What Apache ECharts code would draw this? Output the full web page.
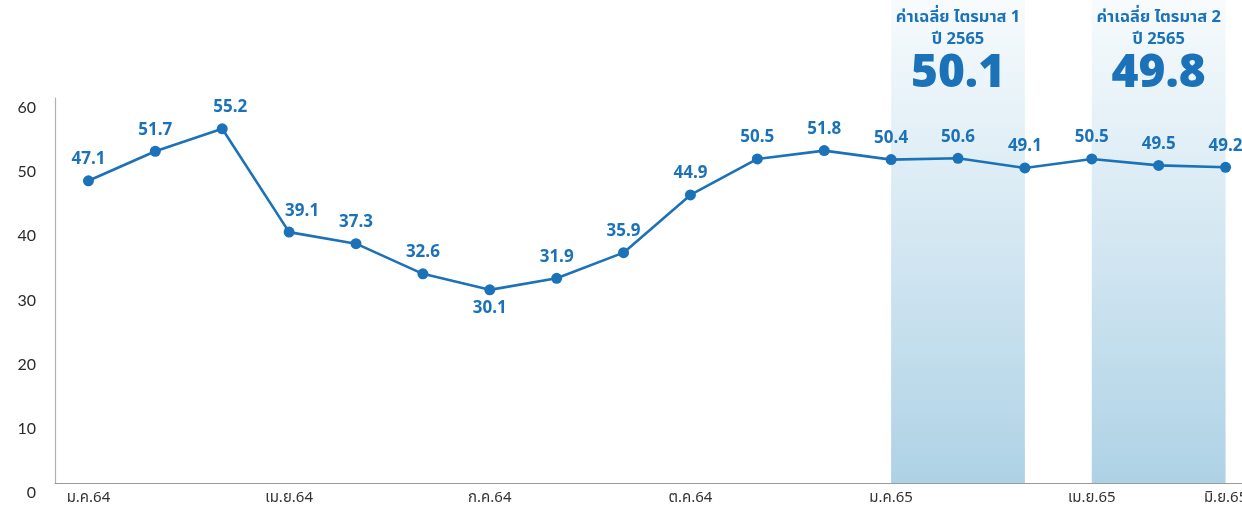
<!DOCTYPE html>
<html>
<head>
<meta charset="utf-8">
<script src="https://cdn.jsdelivr.net/npm/echarts@6/dist/echarts.min.js"></script>
<style>
  html, body { margin: 0; padding: 0; background: #ffffff; overflow: hidden; }
  #chart { width: 1242px; height: 507px; }
</style>
</head>
<body>
<div id="chart"></div>
<script>
// Monthly index, Jan 2021 – Jun 2022 (Thai Buddhist-era month labels)
const months = ['ม.ค.64', 'ก.พ.64', 'มี.ค.64', 'เม.ย.64', 'พ.ค.64', 'มิ.ย.64', 'ก.ค.64', 'ส.ค.64', 'ก.ย.64',
  'ต.ค.64', 'พ.ย.64', 'ธ.ค.64', 'ม.ค.65', 'ก.พ.65', 'มี.ค.65', 'เม.ย.65', 'พ.ค.65', 'มิ.ย.65'];
const values = [47.1, 51.7, 55.2, 39.1, 37.3, 32.6, 30.1, 31.9, 35.9, 44.9, 50.5, 51.8, 50.4, 50.6, 49.1, 50.5, 49.5, 49.2];
// Months whose value label sits under the point
const labelBelow = [6];
// Months that carry an x-axis label
const labelledMonths = [0, 3, 6, 9, 12, 15, 17];
const yTicks = [0, 10, 20, 30, 40, 50, 60];

// Quarterly averages shaded behind the line
const quarterStart = ['ม.ค.65', 'เม.ย.65'];
const quarterEnd = ['มี.ค.65', 'มิ.ย.65'];
const quarterTitle = ['ค่าเฉลี่ย ไตรมาส 1', 'ค่าเฉลี่ย ไตรมาส 2'];
const quarterYear = ['ปี 2565', 'ปี 2565'];
const quarterAvg = ['50.1', '49.8'];

const BLUE = '#1b72b8';
const FONT = "'Noto Sans Thai', 'Noto Sans', sans-serif";

// Labels nudged sideways so they clear the line
const labelNudge = { 2: [8, 0], 3: [13, 0] };

const chart = echarts.init(document.getElementById('chart'), null, { renderer: 'canvas' });

const lineData = values.map((v, i) => {
  const item = { value: v, label: {} };
  if (labelBelow.includes(i)) Object.assign(item.label, { position: 'bottom', distance: 6 });
  if (labelNudge[i]) item.label.offset = labelNudge[i];
  return item;
});

const bandData = quarterStart.map((s, i) => [
  {
    xAxis: s, yAxis: 0,
    label: {
      formatter: '{t|' + quarterTitle[i] + '}\n{t|' + quarterYear[i] + '}\n{n|' + quarterAvg[i] + '}'
    }
  },
  { xAxis: quarterEnd[i], yAxis: 1 }
]);

// The plot runs a little past the right edge of the canvas
const PLOT_LEFT = 55;
const PLOT_WIDTH = 1204;

chart.setOption({
  animation: false,
  backgroundColor: '#ffffff',
  textStyle: { fontFamily: FONT },
  grid: [
    { left: PLOT_LEFT, width: PLOT_WIDTH, top: 98, bottom: 24, containLabel: false, outerBoundsMode: 'none' },
    { left: PLOT_LEFT, width: PLOT_WIDTH, top: 0, bottom: 24, containLabel: false, outerBoundsMode: 'none' }
  ],
  xAxis: [
    {
      type: 'category', gridIndex: 0, data: months, boundaryGap: true,
      axisLine: { lineStyle: { color: '#9a9a9a', width: 1.2 } },
      axisTick: { alignWithLabel: true, interval: 0, length: 7, lineStyle: { color: '#9a9a9a' } },
      axisLabel: {
        interval: (idx) => labelledMonths.includes(idx),
        color: '#333333', fontSize: 15, margin: 8, fontFamily: FONT
      }
    },
    {
      type: 'category', gridIndex: 1, data: months, boundaryGap: true, show: false
    }
  ],
  yAxis: [
    {
      type: 'value', gridIndex: 0, min: 0, max: 60, interval: 10,
      axisLine: { show: true, lineStyle: { color: '#b0b0b0', width: 1.2 } },
      axisTick: { show: false },
      splitLine: { show: false },
      axisLabel: {
        color: '#2a2a2a', fontSize: 16, margin: 19,
        verticalAlign: 'top', lineHeight: 20,
        fontFamily: "'Lato', 'Noto Sans', sans-serif",
        formatter: (v) => yTicks.includes(v) ? String(v) : ''
      }
    },
    { type: 'value', gridIndex: 1, min: 0, max: 1, show: false }
  ],
  series: [
    {
      type: 'line', xAxisIndex: 1, yAxisIndex: 1, data: [], silent: true,
      markArea: {
        silent: true,
        itemStyle: {
          color: {
            type: 'linear', x: 0, y: 0, x2: 0, y2: 1,
            colorStops: [
              { offset: 0, color: '#f7fbfd' },
              { offset: 0.45, color: '#d7e9f3' },
              { offset: 1, color: '#aed2e5' }
            ]
          }
        },
        label: {
          show: true, position: 'insideTop', distance: 8,
          color: BLUE, align: 'center',
          rich: {
            t: { fontSize: 16.5, fontWeight: 'bold', color: BLUE, lineHeight: 22, fontFamily: FONT },
            n: { fontSize: 46, fontWeight: 900, color: BLUE, lineHeight: 52, fontFamily: FONT }
          }
        },
        data: bandData
      }
    },
    {
      type: 'line', xAxisIndex: 0, yAxisIndex: 0, data: lineData,
      z: 5,
      symbol: 'circle', symbolSize: 11,
      lineStyle: { color: BLUE, width: 2.6 },
      itemStyle: { color: BLUE },
      label: {
        show: true, position: 'top', distance: 6,
        color: BLUE, fontSize: 17, fontWeight: 'bold', fontFamily: FONT,
        formatter: (p) => p.value.toFixed(1)
      }
    }
  ]
});
</script>
</body>
</html>
